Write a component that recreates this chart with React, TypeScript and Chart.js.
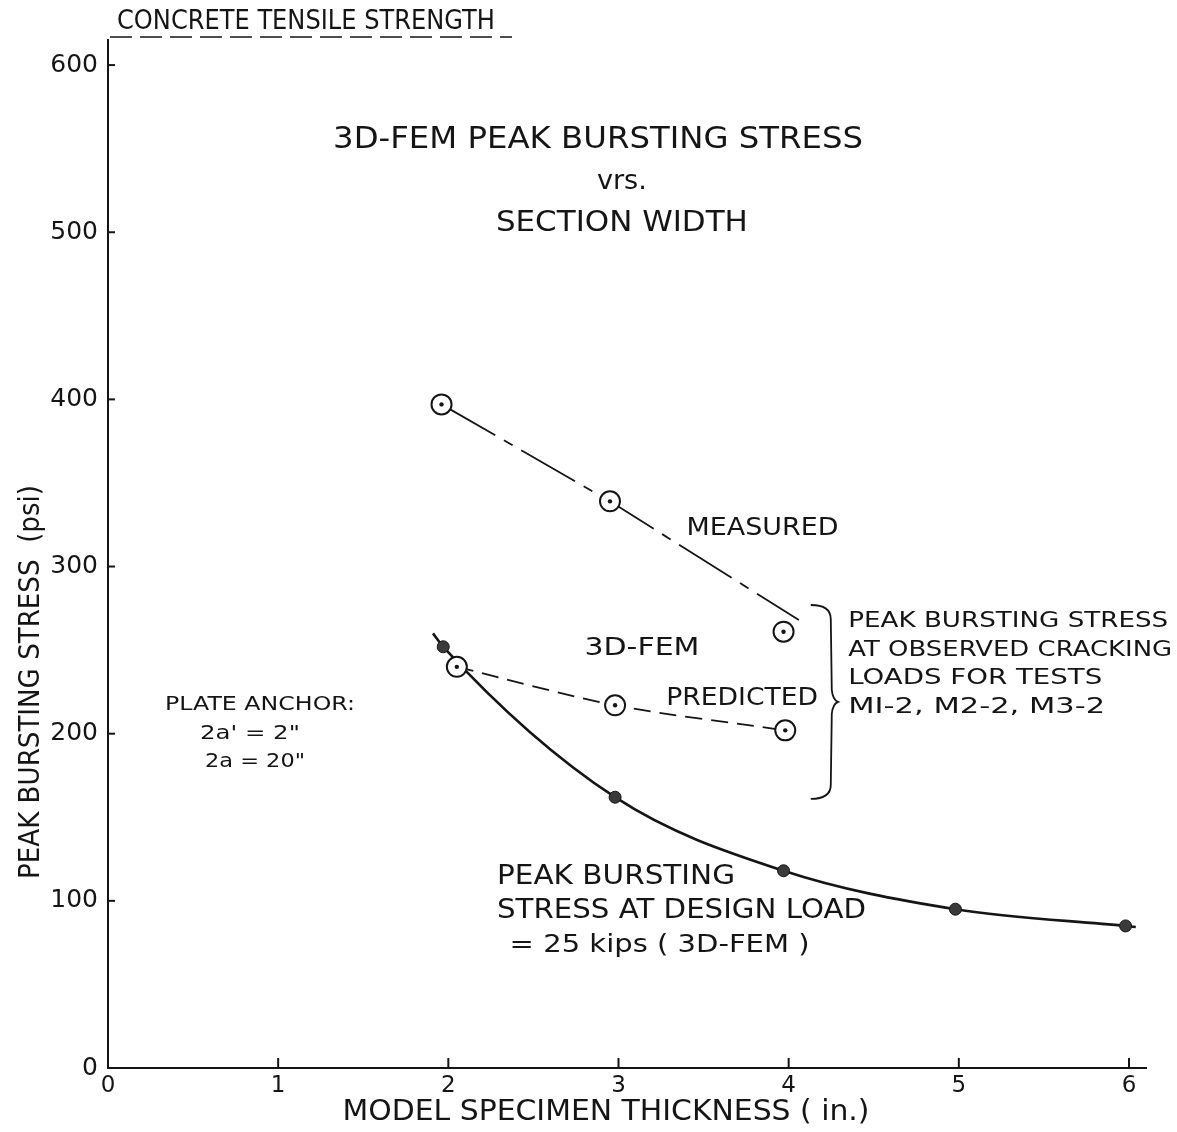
import React, { useEffect, useRef } from "react";
import { Chart, registerables } from "chart.js";

Chart.register(...registerables);

// ---- data ----
const xTickValues = [0, 1, 2, 3, 4, 5, 6];
const yTickValues = [0, 100, 200, 300, 400, 500, 600];

const measuredX = [1.96, 2.95, 3.97];
const measuredY = [397, 339, 261];
const measuredLineX = [1.96, 2.95, 4.06];
const measuredLineY = [397, 339, 268];

const predictedX = [2.05, 2.98, 3.98];
const predictedY = [240, 217, 202];

const designX = [1.97, 2.98, 3.97, 4.98, 5.98];
const designY = [252, 162, 118, 95, 85];
const designCurveX = [1.91, 1.97, 2.98, 3.97, 4.98, 5.98, 6.04];
const designCurveY = [260, 252, 162, 118, 95, 85, 84.4];

const pts = (xs: number[], ys: number[]) => xs.map((x, i) => ({ x, y: ys[i] }));

const FONT = "'DejaVu Sans', 'Liberation Sans', sans-serif";
const INK = "#151515";

function drawFit(
  ctx: CanvasRenderingContext2D,
  text: string,
  x: number,
  y: number,
  size: number,
  width: number | null,
  align: CanvasTextAlign = "left"
) {
  ctx.save();
  ctx.font = `${size}px ${FONT}`;
  const w = ctx.measureText(text).width;
  const sx = width ? width / w : 1;
  ctx.translate(x, y);
  ctx.scale(sx, 1);
  ctx.textAlign = align;
  ctx.textBaseline = "middle";
  ctx.fillStyle = INK;
  ctx.fillText(text, 0, 0);
  ctx.restore();
}

const annotationPlugin = {
  id: "annotations",
  afterDraw(chart: any) {
    const ctx: CanvasRenderingContext2D = chart.ctx;
    const xs = chart.scales.x;
    const ys = chart.scales.y;
    const X = (v: number) => xs.getPixelForValue(v);
    const Y = (v: number) => ys.getPixelForValue(v);
    const area = chart.chartArea;

    // inward ticks
    ctx.save();
    ctx.strokeStyle = INK;
    ctx.lineWidth = 2;
    xTickValues.slice(1).forEach((v) => {
      ctx.beginPath();
      ctx.moveTo(X(v), area.bottom);
      ctx.lineTo(X(v), area.bottom - 10);
      ctx.stroke();
    });
    yTickValues.slice(1).forEach((v) => {
      ctx.beginPath();
      ctx.moveTo(area.left, Y(v));
      ctx.lineTo(area.left + 7, Y(v));
      ctx.stroke();
    });
    ctx.restore();

    // centre dots on open circles
    ctx.save();
    ctx.fillStyle = INK;
    [...pts(measuredX, measuredY), ...pts(predictedX, predictedY)].forEach((p) => {
      ctx.beginPath();
      ctx.arc(X(p.x), Y(p.y), 2.2, 0, Math.PI * 2);
      ctx.fill();
    });
    ctx.restore();

    // top-left label with dashed underline
    drawFit(ctx, "CONCRETE TENSILE STRENGTH", 117, 22, 26, 378, "left");
    ctx.save();
    ctx.strokeStyle = INK;
    ctx.lineWidth = 1.6;
    ctx.setLineDash([22, 8]);
    ctx.beginPath();
    ctx.moveTo(110, 37);
    ctx.lineTo(512, 37);
    ctx.stroke();
    ctx.restore();

    // title
    drawFit(ctx, "3D-FEM PEAK BURSTING STRESS", X(2.88), Y(555), 30, 530, "center");
    drawFit(ctx, "vrs.", X(3.02), Y(530), 27, 50, "center");
    drawFit(ctx, "SECTION WIDTH", X(3.02), Y(505), 29, 252, "center");

    // series labels
    drawFit(ctx, "MEASURED", X(3.40), Y(323), 25, 152, "left");
    drawFit(ctx, "3D-FEM", X(2.80), Y(251), 25, 115, "left");
    drawFit(ctx, "PREDICTED", X(3.28), Y(221), 25, 152, "left");

    // brace
    const bx = X(4.13);
    const tipX = X(4.29);
    const yt = Y(277);
    const yb = Y(161);
    const ym = (yt + yb) / 2;
    ctx.save();
    ctx.strokeStyle = INK;
    ctx.lineWidth = 1.8;
    ctx.beginPath();
    ctx.moveTo(bx, yt);
    ctx.quadraticCurveTo(bx + 20, yt, bx + 20, yt + 14);
    ctx.lineTo(bx + 21, ym - 12);
    ctx.quadraticCurveTo(bx + 22, ym - 2, tipX, ym);
    ctx.quadraticCurveTo(bx + 22, ym + 2, bx + 21, ym + 12);
    ctx.lineTo(bx + 20, yb - 14);
    ctx.quadraticCurveTo(bx + 20, yb, bx, yb);
    ctx.stroke();
    ctx.restore();

    drawFit(ctx, "PEAK BURSTING STRESS", X(4.35), Y(267), 22, 320, "left");
    drawFit(ctx, "AT OBSERVED CRACKING", X(4.35), Y(250), 22, 324, "left");
    drawFit(ctx, "LOADS FOR TESTS", X(4.35), Y(233), 22, 254, "left");
    drawFit(ctx, "MI-2, M2-2, M3-2", X(4.35), Y(216), 22, 257, "left");

    // plate anchor
    drawFit(ctx, "PLATE ANCHOR:", X(0.335), Y(217), 19, 190, "left");
    drawFit(ctx, "2a' = 2\"", X(0.54), Y(200), 19, 100, "left");
    drawFit(ctx, "2a = 20\"", X(0.57), Y(183), 19, 100, "left");

    // design load label
    drawFit(ctx, "PEAK BURSTING", X(2.286), Y(114), 26, 238, "left");
    drawFit(ctx, "STRESS AT DESIGN LOAD", X(2.286), Y(94), 26, 369, "left");
    drawFit(ctx, "= 25 kips ( 3D-FEM )", X(2.36), Y(73), 25, 300, "left");

    // axis titles
    drawFit(ctx, "MODEL SPECIMEN THICKNESS ( in.)", 606, 1113, 28, 527, "center");
    ctx.save();
    ctx.translate(32, 682);
    ctx.rotate(-Math.PI / 2);
    drawFit(ctx, "PEAK BURSTING STRESS  (psi)", 0, 0, 28, 394, "center");
    ctx.restore();
  },
};

export default function App() {
  const ref = useRef<HTMLCanvasElement | null>(null);

  useEffect(() => {
    if (!ref.current) return;
    const chart = new Chart(ref.current, {
      type: "scatter",
      data: {
        datasets: [
          {
            label: "Measured",
            data: pts(measuredX, measuredY),
            showLine: false,
            pointRadius: 10,
            pointBackgroundColor: "#ffffff",
            pointBorderColor: INK,
            pointBorderWidth: 2,
            order: 1,
          },
          {
            label: "3D-FEM predicted",
            data: pts(predictedX, predictedY),
            showLine: false,
            pointRadius: 10,
            pointBackgroundColor: "#ffffff",
            pointBorderColor: INK,
            pointBorderWidth: 2,
            order: 1,
          },
          {
            label: "Design load",
            data: pts(designX, designY),
            showLine: false,
            pointRadius: 6,
            pointBackgroundColor: "#3a3a3a",
            pointBorderColor: INK,
            pointBorderWidth: 1,
            order: 2,
          },
          {
            label: "Measured line",
            data: pts(measuredLineX, measuredLineY),
            showLine: true,
            pointRadius: 0,
            borderColor: INK,
            borderWidth: 1.8,
            borderDash: [62, 10, 10, 10],
            order: 5,
          },
          {
            label: "Predicted line",
            data: pts(predictedX, predictedY),
            showLine: true,
            pointRadius: 0,
            borderColor: INK,
            borderWidth: 1.8,
            borderDash: [17, 9],
            tension: 0.3,
            order: 5,
          },
          {
            label: "Design curve",
            data: pts(designCurveX, designCurveY),
            showLine: true,
            pointRadius: 0,
            borderColor: INK,
            borderWidth: 2.6,
            cubicInterpolationMode: "monotone",
            order: 4,
          },
        ],
      },
      options: {
        animation: false,
        responsive: false,
        layout: { padding: { left: 0, right: 31, top: 40, bottom: 0 } },
        plugins: {
          legend: { display: false },
          tooltip: { enabled: false },
          title: { display: false },
        },
        scales: {
          x: {
            type: "linear",
            min: 0,
            max: 6.1,
            afterBuildTicks: (s: any) => {
              s.ticks = xTickValues.map((v) => ({ value: v }));
            },
            afterFit: (s: any) => {
              s.height = 64;
            },
            grid: { display: false, drawTicks: false },
            border: { display: true, color: INK, width: 2 },
            ticks: {
              color: INK,
              padding: 4,
              font: { family: FONT, size: 23 },
              maxRotation: 0,
              autoSkip: false,
            },
          },
          y: {
            type: "linear",
            min: 0,
            max: 615,
            afterBuildTicks: (s: any) => {
              s.ticks = yTickValues.map((v) => ({ value: v }));
            },
            afterFit: (s: any) => {
              s.width = 108;
            },
            grid: { display: false, drawTicks: false },
            border: { display: true, color: INK, width: 2 },
            ticks: {
              color: INK,
              padding: 10,
              font: { family: FONT, size: 25 },
              autoSkip: false,
            },
          },
        },
      },
      plugins: [annotationPlugin],
    } as any);
    return () => chart.destroy();
  }, []);

  return (
    <div style={{ position: "fixed", left: 0, top: 0, width: 1177, height: 1132, background: "#fff" }}>
      <canvas ref={ref} width={1177} height={1132} style={{ width: 1177, height: 1132 }} />
    </div>
  );
}
